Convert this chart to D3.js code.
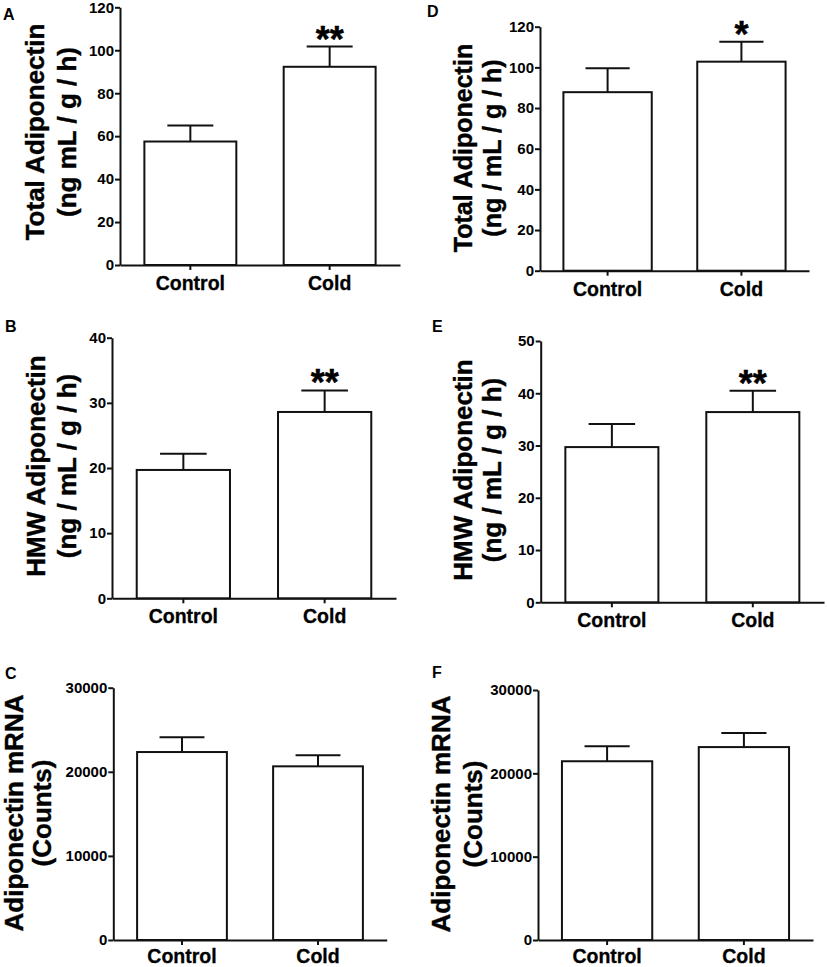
<!DOCTYPE html>
<html lang="en">
<head>
<meta charset="utf-8">
<title>Adiponectin - Control vs Cold</title>
<script src="https://cdn.jsdelivr.net/npm/d3@7"></script>
<style>
  body { margin: 0; background: #fff; }
  svg { display: block; }
  text { font-family: "Liberation Sans", Arial, Helvetica, sans-serif; font-weight: bold; fill: #000; }
  .axis path, .axis line { stroke: #111; stroke-width: 2; fill: none; }
  .axis text { font-size: 15px; fill: #000; }
  .xaxis text { font-size: 19.5px; stroke: #000; stroke-width: 0.3; }
  .bar { fill: #fff; stroke: #111; stroke-width: 2; }
  .err { stroke: #111; stroke-width: 2; fill: none; }
  .star { font-size: 36px; text-anchor: middle; stroke: #000; stroke-width: 0.5; }
  .ytitle { text-anchor: middle; stroke: #000; stroke-width: 0.4; }
  .letter { font-size: 16px; }
</style>
</head>
<body>
<div id="chart"></div>
<script>
// ---------- values ----------
var groups = ["Control", "Cold"];

// A / D : total adiponectin (mean, SEM)
var totalA = [57.5, 92.3];
var totalA_sem = [7.5, 9.4];
var totalD = [87.8, 102.8];
var totalD_sem = [11.8, 9.8];

// B / E : HMW adiponectin
var hmwB = [19.7, 28.6];
var hmwB_sem = [2.5, 3.3];
var hmwE = [29.7, 36.4];
var hmwE_sem = [4.4, 4.1];

// C / F : adiponectin mRNA counts
var mrnaC = [22350, 20650];
var mrnaC_sem = [1750, 1310];
var mrnaF = [21450, 23150];
var mrnaF_sem = [1800, 1680];

// significance marks above each bar
var sigA = ["", "**"];
var sigD = ["", "*"];
var sigB = ["", "**"];
var sigE = ["", "**"];
var sigC = ["", ""];
var sigF = ["", ""];

// y tick values
var ticksTotal = [0, 20, 40, 60, 80, 100, 120];
var ticksHmwB = [0, 10, 20, 30, 40];
var ticksHmwE = [0, 10, 20, 30, 40, 50];
var ticksMrna = [0, 10000, 20000, 30000];

// y titles (two lines)
var titleA = ["Total Adiponectin", "(ng mL / g / h)"];
var titleD = ["Total Adiponectin", "(ng / mL / g / h)"];
var titleHmw = ["HMW Adiponectin", "(ng / mL / g / h)"];
var titleMrna = ["Adiponectin mRNA", "(Counts)"];

// ---------- layout (pixel positions of each panel) ----------
var panels = [
  {letter: "A", lx: 3, ly: 20, vals: totalA, sem: totalA_sem, sig: sigA, ticks: ticksTotal, title: titleA,
   x0: 120, x1: 400, yTop: 7.3, yBot: 265, t1: 44, t2: 76, tcy: 132, tf: 26, pad: 6},
  {letter: "D", lx: 427, ly: 17, vals: totalD, sem: totalD_sem, sig: sigD, ticks: ticksTotal, title: titleD,
   x0: 540, x1: 809, yTop: 26.7, yBot: 270.7, t1: 472, t2: 501, tcy: 148, tf: 25, pad: 6},
  {letter: "B", lx: 5, ly: 332, vals: hmwB, sem: hmwB_sem, sig: sigB, ticks: ticksHmwB, title: titleHmw,
   x0: 112, x1: 396, yTop: 337.7, yBot: 598.3, t1: 44.5, t2: 76, tcy: 466, tf: 26, pad: 6},
  {letter: "E", lx: 432, ly: 332, vals: hmwE, sem: hmwE_sem, sig: sigE, ticks: ticksHmwE, title: titleHmw,
   x0: 540.7, x1: 824, yTop: 341, yBot: 602.3, t1: 472, t2: 501, tcy: 470, tf: 26, pad: 6},
  {letter: "C", lx: 5, ly: 679, vals: mrnaC, sem: mrnaC_sem, sig: sigC, ticks: ticksMrna, title: titleMrna,
   x0: 113.3, x1: 386.7, yTop: 687.7, yBot: 940, t1: 23, t2: 51, tcy: 813, tf: 26, pad: 4},
  {letter: "F", lx: 432, ly: 678, vals: mrnaF, sem: mrnaF_sem, sig: sigF, ticks: ticksMrna, title: titleMrna,
   x0: 538, x1: 813, yTop: 690, yBot: 940, t1: 450, t2: 482, tcy: 814, tf: 26, pad: 4}
];

var W = 827, H = 967;

var svg = d3.select("#chart")
  .append("svg")
  .attr("width", W)
  .attr("height", H);

panels.forEach(function(p) {
  var g = svg.append("g");

  var x = d3.scaleBand()
    .domain(groups)
    .range([p.x0, p.x1])
    .paddingInner(0.34)
    .paddingOuter(0.175);

  var y = d3.scaleLinear()
    .domain([0, d3.max(p.ticks)])
    .range([p.yBot, p.yTop]);

  // y axis
  g.append("g")
    .attr("class", "axis")
    .attr("transform", "translate(" + p.x0 + ",0)")
    .call(d3.axisLeft(y)
      .tickValues(p.ticks)
      .tickFormat(d3.format("d"))
      .tickSize(5)
      .tickSizeOuter(0)
      .tickPadding(1));

  // x axis
  g.append("g")
    .attr("class", "axis xaxis")
    .attr("transform", "translate(0," + p.yBot + ")")
    .call(d3.axisBottom(x)
      .tickSize(5)
      .tickSizeOuter(0)
      .tickPadding(p.pad));

  var data = groups.map(function(k, i) {
    return {key: k, v: p.vals[i], e: p.sem[i], s: p.sig[i]};
  });

  // bars
  g.selectAll(".bar")
    .data(data)
    .enter().append("rect")
    .attr("class", "bar")
    .attr("x", function(d) { return x(d.key); })
    .attr("y", function(d) { return y(d.v); })
    .attr("width", x.bandwidth())
    .attr("height", function(d) { return p.yBot - y(d.v); });

  // error bars (upper only), cap = half the bar width
  var bw = x.bandwidth();
  var eb = g.selectAll(".errg")
    .data(data)
    .enter().append("g");
  eb.append("line")
    .attr("class", "err")
    .attr("x1", function(d) { return x(d.key) + bw / 2; })
    .attr("x2", function(d) { return x(d.key) + bw / 2; })
    .attr("y1", function(d) { return y(d.v); })
    .attr("y2", function(d) { return y(d.v + d.e); });
  eb.append("line")
    .attr("class", "err")
    .attr("x1", function(d) { return x(d.key) + bw / 4; })
    .attr("x2", function(d) { return x(d.key) + bw * 3 / 4; })
    .attr("y1", function(d) { return y(d.v + d.e); })
    .attr("y2", function(d) { return y(d.v + d.e); });

  // significance stars
  g.selectAll(".star")
    .data(data.filter(function(d) { return d.s; }))
    .enter().append("text")
    .attr("class", "star")
    .attr("x", function(d) { return x(d.key) + bw / 2; })
    .attr("y", function(d) { return y(d.v + d.e) + 5; })
    .text(function(d) { return d.s; });

  // y title
  var t = g.append("text")
    .attr("class", "ytitle")
    .attr("transform", "translate(0," + p.tcy + ") rotate(-90)")
    .style("font-size", p.tf + "px");
  t.append("tspan").attr("x", 0).attr("y", p.t1).text(p.title[0]);
  t.append("tspan").attr("x", 0).attr("y", p.t2).text(p.title[1]);

  // panel letter
  g.append("text")
    .attr("class", "letter")
    .attr("x", p.lx)
    .attr("y", p.ly)
    .text(p.letter);
});
</script>
</body>
</html>
